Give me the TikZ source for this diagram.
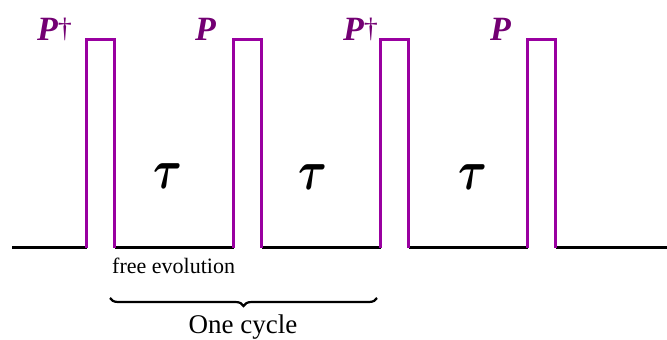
\documentclass[tikz,border=0pt]{standalone}
\usepackage{bm}
\usepackage{fontspec}
\setmainfont{Liberation Serif}
\usetikzlibrary{decorations.pathreplacing}
\definecolor{pulsecol}{RGB}{153,0,160}
\definecolor{labcol}{RGB}{115,0,115}
\begin{document}
\begin{tikzpicture}[x=1pt,y=-1pt,
  baseline/.style={draw=black,line width=2.5pt},
  pulseline/.style={draw=pulsecol,line width=2.5pt},
  plabel/.style={text=labcol,font=\fontsize{34}{34}\selectfont\bfseries\itshape,inner sep=0pt,anchor=base west},
  taulabel/.style={inner sep=0pt},
  note/.style={inner sep=0pt,anchor=base west,font=\fontsize{22}{22}\selectfont}]
\useasboundingbox (0,0) rectangle (667,340);
% coordinates of the pulse train
\coordinate (s) at (12,247.5);
\coordinate (e) at (667,247.5);
\foreach \i/\x in {1/86.5,2/233.5,3/380.5,4/527.5}{
  \coordinate (a\i) at (\x,247.5);
  \coordinate (b\i) at (\x,39.5);
  \coordinate (c\i) at ({\x+28},39.5);
  \coordinate (d\i) at ({\x+28},247.5);
}
\draw[baseline] (s) -- (a1);
\draw[baseline] (d1) -- (a2);
\draw[baseline] (d2) -- (a3);
\draw[baseline] (d3) -- (a4);
\draw[baseline] (d4) -- (e);
\foreach \i in {1,2,3,4}{
  \draw[pulseline,line join=miter] (a\i) -- (b\i) -- (c\i) -- (d\i);
}
% labels
\node[plabel] (p1) at (37,40) {P\raisebox{3pt}{\fontsize{28}{28}\selectfont\mdseries\upshape †}};
\node[plabel] (p2) at (195,40) {P};
\node[plabel] (p3) at (343,40) {P\raisebox{3pt}{\fontsize{28}{28}\selectfont\mdseries\upshape †}};
\node[plabel] (p4) at (490,40) {P};
\node[taulabel] (t1) at (168,176) {\scalebox{4.4}[5.6]{$\bm{\tau}$}};
\node[taulabel] (t2) at (313,177) {\scalebox{4.4}[5.6]{$\bm{\tau}$}};
\node[taulabel] (t3) at (473,177) {\scalebox{4.4}[5.6]{$\bm{\tau}$}};
\node[note] (fe) at (112,273) {free evolution};
\coordinate (bl) at (110,298);
\coordinate (br) at (377,298);
\draw[line width=2.2pt,decorate,decoration={brace,mirror,amplitude=8pt,aspect=0.5}] (bl) -- (br);
\node[inner sep=0pt,anchor=base,font=\fontsize{27}{27}\selectfont] (oc) at (243,333) {One cycle};
\end{tikzpicture}
\end{document}
